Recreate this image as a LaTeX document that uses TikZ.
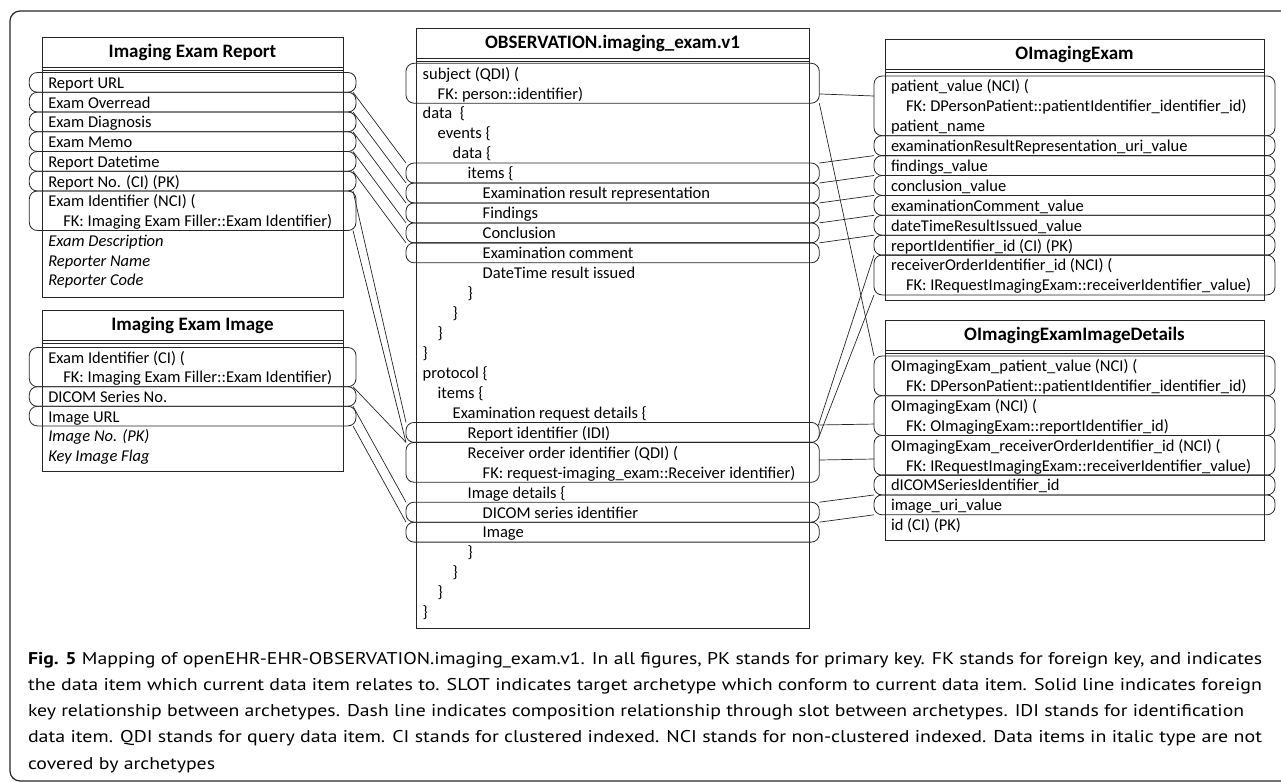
\documentclass[tikz,border=0pt]{standalone}
\usepackage{fontspec}
\usepackage{graphicx}
\setmainfont{Carlito}
\newfontfamily\capfont{PT Sans}
\usetikzlibrary{calc}
\newlength\capwidth
\newcommand\figcapi{\textbf{Fig. 5} Mapping of openEHR-EHR-OBSERVATION.imaging\_exam.v1. In all figures, PK stands for primary key. FK stands for foreign key, and indicates}
\newcommand\figcapii{the data item which current data item relates to. SLOT indicates target archetype which conform to current data item. Solid line indicates foreign}
\newcommand\figcapiii{key relationship between archetypes. Dash line indicates composition relationship through slot between archetypes. IDI stands for identification}
\newcommand\figcapiv{data item. QDI stands for query data item. CI stands for clustered indexed. NCI stands for non-clustered indexed. Data items in italic type are not}
\newcommand\figcapv{covered by archetypes}
\begin{document}
% horizontal scale of the caption font, taken from its first line
\settowidth\capwidth{\capfont\fontsize{17}{20}\selectfont\figcapi}
\pgfmathsetmacro\capsx{1234/\capwidth}
\begin{tikzpicture}[x=1pt,y=-1pt,
  every node/.style={inner sep=0pt, outer sep=0pt},
  frame/.style={draw=black!85, line width=1.2pt, rounded corners=10pt},
  tbl/.style={draw=black!85, line width=0.8pt, rectangle, anchor=north west},
  sep/.style={draw=black!85, line width=0.8pt},
  pill/.style={draw=black!85, line width=0.8pt, rectangle, rounded corners=8pt, anchor=north west},
  txt/.style={anchor=base west, font=\fontsize{16.5}{19}\selectfont},
  ttl/.style={anchor=center, font=\fontsize{19}{23}\selectfont\bfseries},
  link/.style={draw=black!85, line width=0.7pt},
  capline/.style={anchor=base west, font=\capfont\fontsize{17}{20}\selectfont},
]
\useasboundingbox (0,0) rectangle (1281,781);

% outer frame
\draw[frame] (1300,11) -- (10,11) -- (10,781) -- (1300,781);

% ---------- tables ----------
\node[tbl, minimum width=301pt, minimum height=260pt] (rep) at (42,37) {};
\node[tbl, minimum width=301pt, minimum height=161pt] (img) at (42,310) {};
\node[tbl, minimum width=393pt, minimum height=600pt] (obs) at (416,28.3) {};
\node[tbl, minimum width=379pt, minimum height=261.4pt] (oie) at (885,39.3) {};
\node[tbl, minimum width=379pt, minimum height=220.7pt] (oid) at (885,320) {};

\foreach \t in {rep,img,obs,oie,oid}{
  \draw[sep] ([yshift=-30pt]\t.north west) -- ([yshift=-30pt]\t.north east);
  \draw[sep] ([yshift=-33.5pt]\t.north west) -- ([yshift=-33.5pt]\t.north east);
}

\node[ttl] (repT) at ($(rep.north)+(0,15)$) {Imaging Exam Report};
\node[ttl] (imgT) at ($(img.north)+(0,15)$) {Imaging Exam Image};
\node[ttl] (obsT) at ($(obs.north)+(0,15)$) {OBSERVATION.imaging\_exam.v1};
\node[ttl] (oieT) at ($(oie.north)+(0,15)$) {OImagingExam};
\node[ttl] (oidT) at ($(oid.north)+(0,15)$) {OImagingExamImageDetails};

% ---------- rounded row markers ----------
% Imaging Exam Report
\foreach \n/\y/\h in {rp1/72.5/19.75, rp2/92.25/19.75, rp3/112/19.75, rp4/131.75/19.75,
                      rp5/151.5/19.75, rp6/171.25/19.75, rp7/191/39.5}
  \node[pill, minimum width=326.7pt, minimum height=\h pt] (\n) at (29.3,\y) {};
% Imaging Exam Image
\foreach \n/\y/\h in {ip1/347.5/39.2, ip2/386.7/19.6, ip3/406.3/19.6}
  \node[pill, minimum width=326.7pt, minimum height=\h pt] (\n) at (29.3,\y) {};
% OBSERVATION.imaging_exam.v1
\foreach \n/\y/\h in {ms/63.3/39.9, mi/163.05/19.95, me/183/19.95, mf/202.95/19.95,
                      mc/222.9/19.95, mx/242.85/19.95, mr/422.4/19.95, mo/442.35/39.9,
                      md/502.2/19.95, mg/522.15/19.95}
  \node[pill, minimum width=413.3pt, minimum height=\h pt] (\n) at (406,\y) {};
% OImagingExam
\foreach \n/\y/\h in {op1/76/59.7, op2/135.7/19.9, op3/155.6/19.9, op4/175.5/19.9,
                      op5/195.4/19.9, op6/215.3/19.9, op7/235.2/19.9, op8/255.1/39.8}
  \node[pill, minimum width=401pt, minimum height=\h pt] (\n) at (874,\y) {};
% OImagingExamImageDetails
\foreach \n/\y/\h in {dp1/356/39.7, dp2/395.7/39.7, dp3/435.4/39.7, dp4/475.1/19.85, dp5/494.95/19.85}
  \node[pill, minimum width=401pt, minimum height=\h pt] (\n) at (874,\y) {};

% ---------- row texts ----------
\foreach \d/\t [count=\i from 0] in {
  0/{Report URL}, 0/{Exam Overread}, 0/{Exam Diagnosis}, 0/{Exam Memo},
  0/{Report Datetime}, 0/{Report No. (CI) (PK)}, 0/{Exam Identifier (NCI) (},
  1/{FK: Imaging Exam Filler::Exam Identifier)}, 0/{\itshape Exam Description},
  0/{\itshape Reporter Name}, 0/{\itshape Reporter Code}}
  \node[txt] (rt\i) at ({48.3+15*\d},{88.3+19.75*\i}) {\t};

\foreach \d/\t [count=\i from 0] in {
  0/{Exam Identifier (CI) (}, 1/{FK: Imaging Exam Filler::Exam Identifier)},
  0/{DICOM Series No.}, 0/{Image URL}, 0/{\itshape Image No. (PK)}, 0/{\itshape Key Image Flag}}
  \node[txt] (it\i) at ({48.3+15*\d},{363.3+19.6*\i}) {\t};

\foreach \d/\t [count=\i from 0] in {
  0/{subject (QDI) (}, 1/{FK: person::identifier)}, 0/{data\hspace{0.45em}\{}, 1/{events \{},
  2/{data \{}, 3/{items \{}, 4/{Examination result representation}, 4/{Findings},
  4/{Conclusion}, 4/{Examination comment}, 4/{DateTime result issued}, 3/{\}}, 2/{\}},
  1/{\}}, 0/{\}}, 0/{protocol \{}, 1/{items \{}, 2/{Examination request details \{},
  3/{Report identifier (IDI)}, 3/{Receiver order identifier (QDI) (},
  4/{FK: request-imaging\_exam::Receiver identifier)}, 3/{Image details \{},
  4/{DICOM series identifier}, 4/{Image}, 3/{\}}, 2/{\}}, 1/{\}}, 0/{\}}}
  \node[txt] (mt\i) at ({422.7+15*\d},{79.1+19.95*\i}) {\t};

\foreach \d/\t [count=\i from 0] in {
  0/{patient\_value (NCI) (}, 1/{FK: DPersonPatient::patientIdentifier\_identifier\_id)},
  0/{patient\_name}, 0/{examinationResultRepresentation\_uri\_value}, 0/{findings\_value},
  0/{conclusion\_value}, 0/{examinationComment\_value}, 0/{dateTimeResultIssued\_value},
  0/{reportIdentifier\_id (CI) (PK)}, 0/{receiverOrderIdentifier\_id (NCI) (},
  1/{FK: IRequestImagingExam::receiverIdentifier\_value)}}
  \node[txt] (ot\i) at ({891+15*\d},{91.8+19.9*\i}) {\t};

\foreach \d/\t [count=\i from 0] in {
  0/{OImagingExam\_patient\_value (NCI) (}, 1/{FK: DPersonPatient::patientIdentifier\_identifier\_id)},
  0/{OImagingExam (NCI) (}, 1/{FK: OImagingExam::reportIdentifier\_id)},
  0/{OImagingExam\_receiverOrderIdentifier\_id (NCI) (}, 1/{FK: IRequestImagingExam::receiverIdentifier\_value)},
  0/{dICOMSeriesIdentifier\_id}, 0/{image\_uri\_value}, 0/{id (CI) (PK)}}
  \node[txt] (dt\i) at ({891+15*\d},{371.8+19.85*\i}) {\t};

% ---------- connectors: report / image tables to the archetype ----------
\draw[link] ([xshift=-3pt]rp1.south east) -- (mi.north west);
\draw[link] ([xshift=-3pt]rp2.south east) -- (me.north west);
\draw[link] ([xshift=-3pt]rp3.south east) -- (mf.north west);
\draw[link] ([xshift=-3pt]rp4.south east) -- (mc.north west);
\draw[link] ([xshift=-3pt]rp5.south east) -- (mx.north west);
\draw[link] ([xshift=-3pt]rp7.north east) -- (mr.north west);
\draw[link] ([xshift=-3pt]rp7.south east) -- (mr.south west);
\draw[link] ([xshift=-3pt]ip1.south east) -- (mr.south west);
\draw[link] ([xshift=-3pt]ip2.south east) -- (md.north west);
\draw[link] ([xshift=-3pt]ip3.south east) -- (mg.north west);

% ---------- connectors: archetype to the database tables ----------
\draw[link] ($(ms.east)+(0,10.7)$) -- ($(op1.west)+(0,-9.85)$);
\draw[link] (ms.south east) -- (dp1.north west);
\draw[link] (mi.north east) -- (op2.south west);
\draw[link] (me.north east) -- (op3.south west);
\draw[link] (mf.north east) -- (op4.south west);
\draw[link] (mc.north east) -- (op5.south west);
\draw[link] (mx.north east) -- (op6.south west);
\draw[link] ($(mr.north east)+(-1,3)$) -- (op8.north west);
\draw[link] ($(mr.south east)+(-1,-4)$) -- (op8.south west);
\draw[link] ($(mr.east)+(0,-7.4)$) -- ($(dp2.west)+(0,8.5)$);
\draw[link] ($(mo.east)+(0,-2.3)$) -- ($(dp3.west)+(0,3.75)$);
\draw[link] (md.north east) -- (dp4.south west);
\draw[link] (mg.north east) -- (dp5.south west);

% ---------- caption ----------
\node[capline] (cap1) at (28,664) {\resizebox{1234pt}{\height}{\figcapi}};
\node[capline] (cap2) at (28,690.3) {\resizebox{1234pt}{\height}{\figcapii}};
\node[capline] (cap3) at (28,716.6) {\resizebox{1216pt}{\height}{\figcapiii}};
\node[capline] (cap4) at (28,742.9) {\resizebox{1234pt}{\height}{\figcapiv}};
\node[capline] (cap5) at (28,769.2) {\scalebox{\capsx}[1]{\figcapv}};
\end{tikzpicture}
\end{document}
